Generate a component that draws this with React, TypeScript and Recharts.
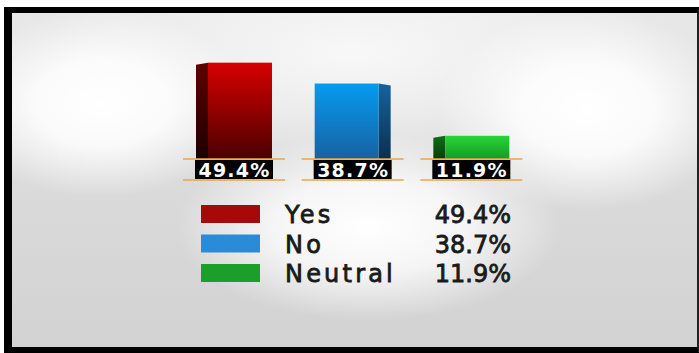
import React from 'react';
import { BarChart, Bar, XAxis, YAxis, LabelList } from 'recharts';

const categories = ['Yes', 'No', 'Neutral'];
const shares = [49.4, 38.7, 11.9];
const shareLabels = ['49.4%', '38.7%', '11.9%'];
const swatchColors = ['#a50a0a', '#2b8bd8', '#1c9e2a'];

const data = categories.map((name, i) => ({ name, value: shares[i], label: shareLabels[i] }));

// front/side gradient stops for the extruded bars
const faces = [
  { top: '#d80000', bottom: '#4a0000', sideTop: '#600000', sideBottom: '#1c0000', side: 'left' },
  { top: '#069bf0', bottom: '#1762a0', sideTop: '#16639c', sideBottom: '#0a3050', side: 'right' },
  { top: '#2ad43a', bottom: '#139c22', sideTop: '#0e6e14', sideBottom: '#073e0a', side: 'left' },
];

const FONT = '"DejaVu Sans", Verdana, sans-serif';
const DEPTH = 12;

const Bar3D = (props: any) => {
  const { x, y, width, height, index } = props;
  const f = faces[index];
  const bottom = y + height;
  const frontW = width - DEPTH;
  const fx = f.side === 'left' ? x + DEPTH : x;
  const sx = f.side === 'left' ? x : x + frontW;
  const sidePts =
    f.side === 'left'
      ? `${sx},${y + 2} ${sx + DEPTH},${y} ${sx + DEPTH},${bottom} ${sx},${bottom}`
      : `${sx},${y} ${sx + DEPTH},${y + 2} ${sx + DEPTH},${bottom} ${sx},${bottom}`;
  return (
    <g>
      <defs>
        <linearGradient id={`front-${index}`} x1="0" y1="0" x2="0" y2="1">
          <stop offset="0%" stopColor={f.top} />
          <stop offset="100%" stopColor={f.bottom} />
        </linearGradient>
        <linearGradient id={`side-${index}`} x1="0" y1="0" x2="0" y2="1">
          <stop offset="0%" stopColor={f.sideTop} />
          <stop offset="100%" stopColor={f.sideBottom} />
        </linearGradient>
      </defs>
      <polygon points={sidePts} fill={`url(#side-${index})`} />
      <rect x={fx} y={y} width={frontW} height={height} fill={`url(#front-${index})`} />
    </g>
  );
};

const ValueTag = (props: any) => {
  const { x, y, width, height, value } = props;
  const cx = x + width / 2;
  const base = y + height;
  return (
    <g>
      <rect x={cx - 39} y={base + 1} width={78} height={19} fill="#000" />
      <text
        x={cx + 0.5}
        y={base + 17.5}
        textAnchor="middle"
        fill="#fff"
        fontFamily={FONT}
        fontWeight="bold"
        fontSize={19}
        letterSpacing={1.2}
      >
        {value}
      </text>
      <line x1={cx - 51} x2={cx + 51} y1={base} y2={base} stroke="#eaa64a" strokeWidth={1.5} />
      <line x1={cx - 51} x2={cx + 51} y1={base + 21} y2={base + 21} stroke="#eaa64a" strokeWidth={1.5} />
    </g>
  );
};

const LegendBlock = () => (
  <svg width={699} height={353} style={{ position: 'absolute', left: 0, top: 0 }}>
    {categories.map((name, i) => {
      const baseline = 223 + i * 29.5;
      return (
        <g key={name}>
          <rect x={201} y={baseline - 18} width={59} height={18} fill={swatchColors[i]} />
          <text
            x={285}
            y={baseline}
            fontFamily={FONT}
            fontSize={24}
            fill="#1a1a1a"
            stroke="#1a1a1a"
            strokeWidth={0.8}
            letterSpacing={3.2}
          >
            {name}
          </text>
          <text
            x={511}
            y={baseline}
            textAnchor="end"
            fontFamily={FONT}
            fontSize={24}
            fill="#1a1a1a"
            stroke="#1a1a1a"
            strokeWidth={0.8}
          >
            {shareLabels[i]}
          </text>
        </g>
      );
    })}
  </svg>
);

export default function App() {
  return (
    <div
      style={{
        position: 'absolute',
        left: 0,
        top: 0,
        width: 699,
        height: 353,
        background: '#fff',
        overflow: 'hidden',
      }}
    >
      <div
        style={{
          position: 'absolute',
          left: 4,
          top: 7,
          right: 0,
          bottom: 0,
          borderLeft: '8px solid #000',
          borderTop: '6px solid #000',
          borderRight: '2px solid #222',
          borderBottom: '6px solid #000',
          background: [
            'radial-gradient(ellipse 22% 28% at 13% 27%, #ffffff 0%, rgba(255,255,255,0.85) 45%, rgba(255,255,255,0) 100%)',
            'radial-gradient(ellipse 22% 30% at 84% 29%, #ffffff 0%, rgba(255,255,255,0.85) 45%, rgba(255,255,255,0) 100%)',
            'radial-gradient(ellipse 28% 28% at 52% 64%, #ffffff 0%, rgba(255,255,255,0.75) 50%, rgba(255,255,255,0) 100%)',
            'radial-gradient(ellipse 45% 35% at 50% 12%, #f8f8f8 0%, rgba(248,248,248,0) 100%)',
            'linear-gradient(#e8e8e8, #dadada 55%, #d2d2d2)',
          ].join(', '),
        }}
      />
      <div style={{ position: 'absolute', left: 0, top: 0 }}>
        <BarChart
          width={699}
          height={353}
          data={data}
          margin={{ top: 42, right: 168, bottom: 194, left: 175 }}
        >
          <XAxis dataKey="name" hide />
          <YAxis hide domain={[0, 60]} />
          <Bar dataKey="value" barSize={76} shape={Bar3D} isAnimationActive={false}>
            <LabelList dataKey="label" content={ValueTag} />
          </Bar>
        </BarChart>
      </div>
      <LegendBlock />
    </div>
  );
}
